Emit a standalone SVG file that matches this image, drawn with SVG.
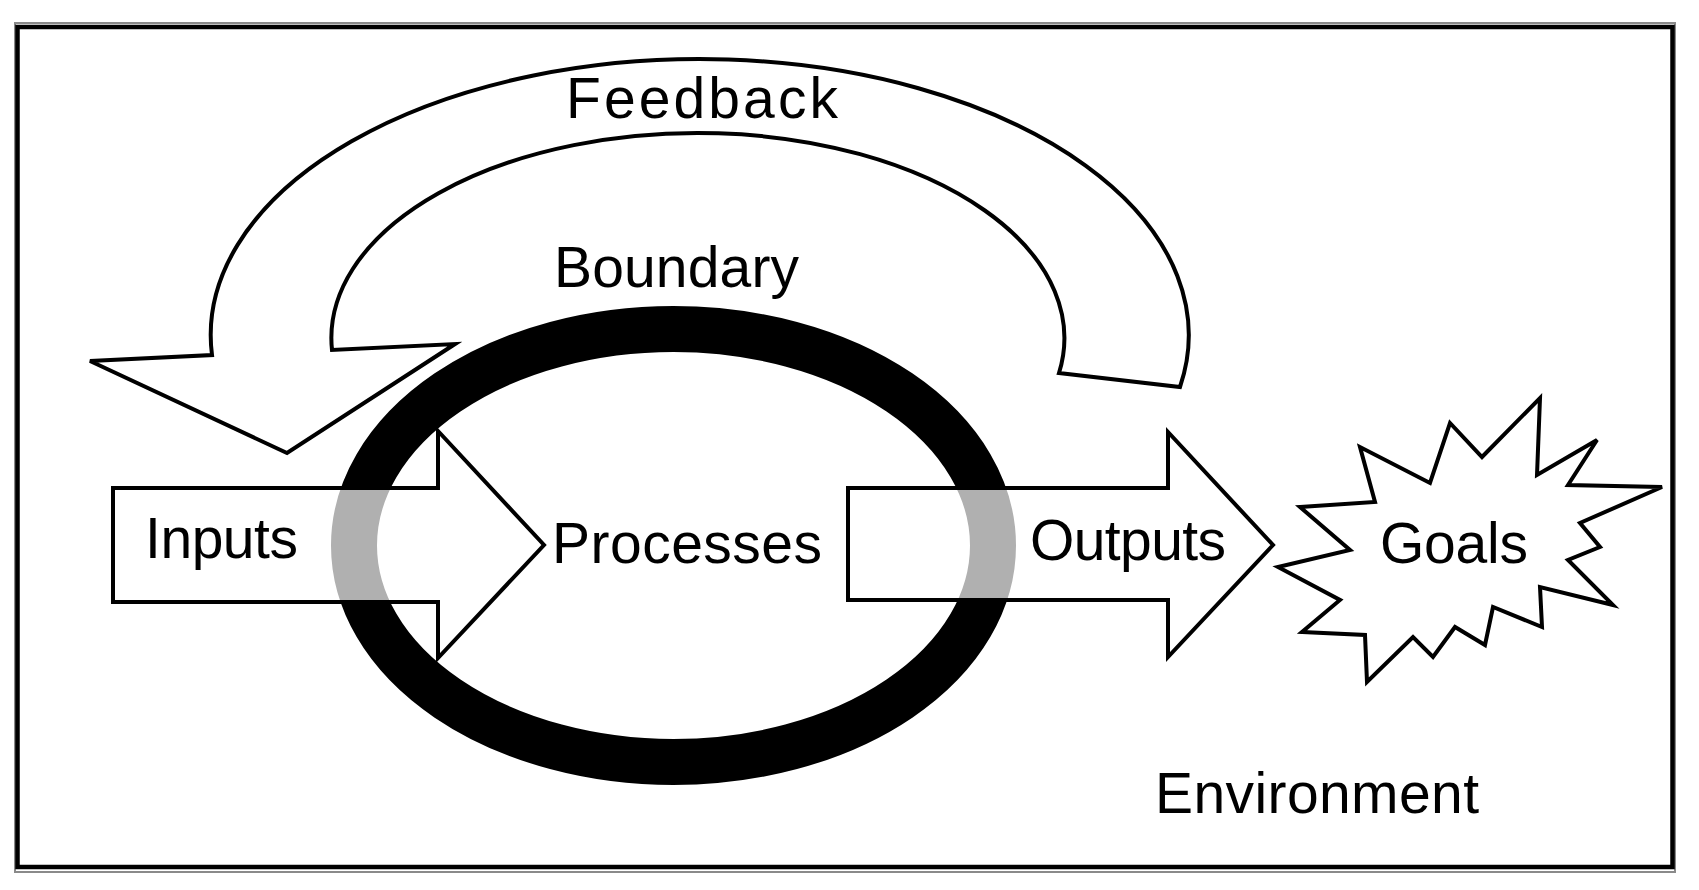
<svg xmlns="http://www.w3.org/2000/svg" width="1699" height="890" viewBox="0 0 1699 890">
<style>
.lbl{font-family:"Liberation Sans",Arial,sans-serif;font-size:57px;fill:#000}
.shape{fill:#fff;stroke:#000;stroke-width:4;stroke-linejoin:miter}
.blk{fill:#fff;fill-opacity:0.69;stroke:#000;stroke-width:4}
</style>
<rect width="1699" height="890" fill="#fff"/>
<g id="frame">
<rect x="15" y="23" width="1660" height="849" fill="none" stroke="#8a8a8a" stroke-width="2"/>
<rect x="17.5" y="27" width="1655" height="840" fill="#fff" stroke="#000" stroke-width="4.5"/>
</g>
<g id="connectors">
<g id="feedback">
<path class="shape" stroke-width="3.5" d="M 90 361 L 212 355 A 489 276 0 1 1 1180 387 L 1059 373 A 366.5 205 0 1 0 332 350 L 455 344 L 287 453 Z"/>
<text class="lbl" x="566" y="118" font-size="59" textLength="272">Feedback</text>
</g>
</g>
<g id="boundary">
<ellipse cx="673.5" cy="545.5" rx="319.5" ry="216.5" fill="none" stroke="#000" stroke-width="46"/>
<text class="lbl" x="554" y="287" textLength="245">Boundary</text>
</g>
<g id="processes">
<text class="lbl" x="552" y="563" textLength="270">Processes</text>
</g>
<g id="inputs">
<polygon class="blk" points="113,488 438,488 438,431 544,545 438,658 438,602 113,602"/>
<text class="lbl" x="145" y="558" textLength="153">Inputs</text>
</g>
<g id="outputs">
<polygon class="blk" points="848,488 1168,488 1168,432 1273,545 1168,657 1168,600 848,600"/>
<text class="lbl" x="1030" y="560" textLength="196">Outputs</text>
</g>
<g id="goals">
<polygon class="shape" points="1300,507 1375,502 1360,447 1430,483 1450,423 1482,457 1540,398 1537,475 1597,440 1568,485 1662,487 1580,523 1600,547 1568,560 1613,605 1540,587 1542,627 1493,607 1485,645 1455,627 1433,657 1413,637 1367,682 1365,635 1302,632 1340,600 1278,567 1350,550"/>
<text class="lbl" x="1380" y="563" textLength="148">Goals</text>
</g>
<g id="environment">
<text class="lbl" x="1155" y="813" textLength="324">Environment</text>
</g>
</svg>
